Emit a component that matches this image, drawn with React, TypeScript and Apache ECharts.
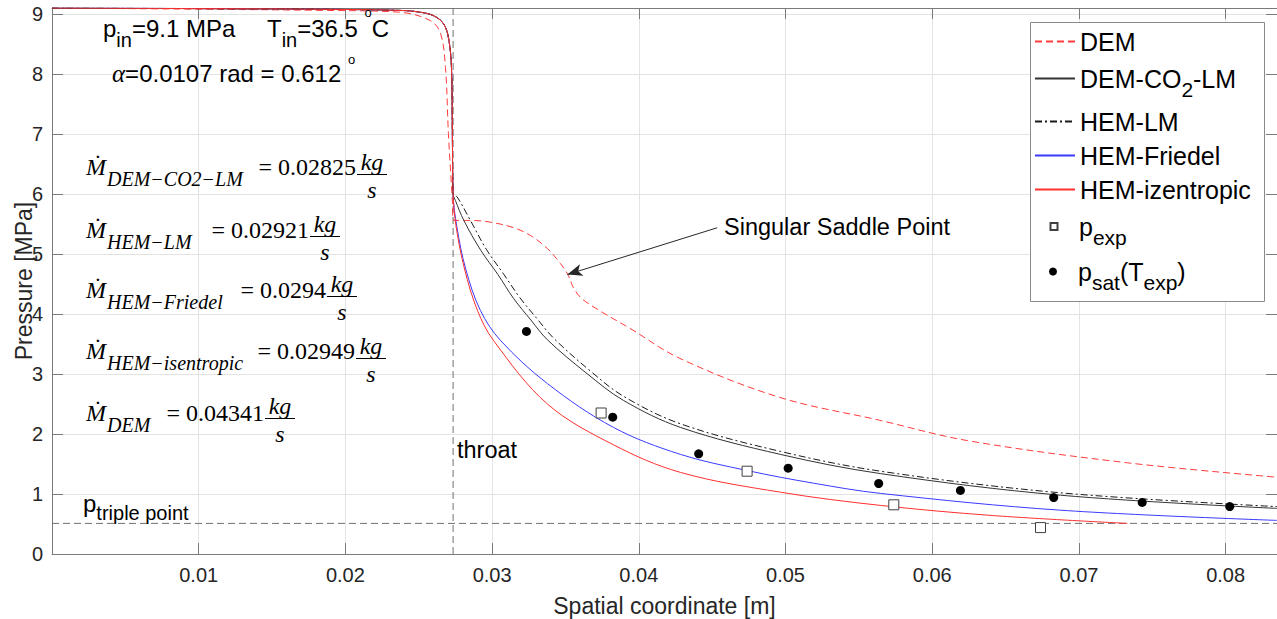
import React, { useEffect, useRef } from 'react';
import * as echarts from 'echarts';

const SANS = '"Liberation Sans", Arial, Helvetica, sans-serif';
const SERIF = '"Liberation Serif", "DejaVu Serif", "Times New Roman", serif';

// ---- axes ----
const X_MAX = 0.0835;
const X_INTERVAL = 0.01;
const Y_MAX = 9.1;
const Y_INTERVAL = 1;
const THROAT_X = 0.02734;
const P_TRIPLE = 0.51;

// ---- shared upstream (converging part) ----
const upstreamX = [0, 0.01, 0.018, 0.0237, 0.0251, 0.02602, 0.02668, 0.02702, 0.02723, 0.02729];
const upstreamP = [9.1, 9.09, 9.08, 9.06, 9.03, 8.97, 8.84, 8.61, 8.11, 7.01];

// ---- DEM (dashed red) ----
const demX = [0, 0.01, 0.0185, 0.0237, 0.02579, 0.02648, 0.02682, 0.02702, 0.02729, 0.02736, 0.0285, 0.0299, 0.03145, 0.03261, 0.03377, 0.03466, 0.0352, 0.03554, 0.0361, 0.0373, 0.0394, 0.0428, 0.0496, 0.0564, 0.0624, 0.0733, 0.0835];
const demP = [9.1, 9.08, 9.06, 9.03, 8.89, 8.68, 8.11, 7.01, 5.89, 5.56, 5.56, 5.53, 5.44, 5.31, 5.09, 4.84, 4.64, 4.44, 4.26, 4.06, 3.76, 3.26, 2.61, 2.23, 1.89, 1.52, 1.28];

// ---- downstream branches ----
const co2lmX = [0.02734, 0.0275, 0.02807, 0.02923, 0.03039, 0.03146, 0.03264, 0.03377, 0.0364, 0.03895, 0.04284, 0.04965, 0.05647, 0.06874, 0.0835];
const co2lmP = [6.0, 5.89, 5.56, 5.06, 4.66, 4.26, 3.9, 3.57, 3.02, 2.56, 2.11, 1.66, 1.34, 0.98, 0.76];

const hemLmX = [0.02734, 0.02762, 0.02852, 0.0296, 0.0308, 0.0319, 0.0331, 0.03418, 0.0366, 0.03895, 0.04284, 0.04965, 0.05647, 0.06874, 0.0835];
const hemLmP = [6.0, 5.95, 5.56, 5.08, 4.66, 4.27, 3.91, 3.6, 3.07, 2.63, 2.17, 1.71, 1.38, 1.02, 0.79];

const friedelX = [0.02734, 0.0276, 0.0282, 0.0292, 0.03057, 0.03377, 0.03827, 0.04284, 0.04741, 0.05191, 0.05647, 0.06874, 0.0835];
const friedelP = [6.0, 5.45, 4.75, 4.06, 3.56, 2.84, 2.11, 1.66, 1.39, 1.18, 1.01, 0.73, 0.56];

const isenX = [0.02734, 0.02755, 0.02812, 0.029, 0.03009, 0.03377, 0.03827, 0.04284, 0.04965, 0.05647, 0.06418, 0.0733];
const isenP = [6.0, 5.45, 4.75, 4.06, 3.56, 2.5, 1.82, 1.36, 1.03, 0.81, 0.64, 0.51];

// ---- experiments ----
const pExpX = [0.03743, 0.04738, 0.05738, 0.06738];
const pExpP = [2.35, 1.38, 0.82, 0.44];
const pSatX = [0.03234, 0.03822, 0.04408, 0.05018, 0.05635, 0.06192, 0.06828, 0.07431, 0.08028];
const pSatP = [3.71, 2.28, 1.67, 1.43, 1.175, 1.06, 0.94, 0.86, 0.79];

// ---- mass flow annotations ----
const massFlowSubs = ['DEM\u2212CO2\u2212LM', 'HEM\u2212LM', 'HEM\u2212Friedel', 'HEM\u2212isentropic', 'DEM'];
const massFlowValues = ['0.02825', '0.02921', '0.0294', '0.02949', '0.04341'];

// ---- saddle arrow (data coords) ----
const arrowFrom = [0.04534, 5.437];
const arrowTo = [0.03513, 4.658];

const zip = (xs: number[], ys: number[]) => xs.map((x, i) => [x, ys[i]]);

const legendItems = [
  { name: 'DEM', fmt: '{m|DEM}', cy: 42, left: 1034, w: 40, h: 14, pad: 0, line: true },
  { name: 'DEM-CO2-LM', fmt: '{m|DEM-CO}{s|2}{m|-LM}', cy: 79, left: 1034, w: 40, h: 14, pad: 0, line: true },
  { name: 'HEM-LM', fmt: '{m|HEM-LM}', cy: 122, left: 1034, w: 40, h: 14, pad: 0, line: true },
  { name: 'HEM-Friedel', fmt: '{m|HEM-Friedel}', cy: 156, left: 1034, w: 40, h: 14, pad: 0, line: true },
  { name: 'HEM-izentropic', fmt: '{m|HEM-izentropic}', cy: 190, left: 1034, w: 40, h: 14, pad: 0, line: true },
  { name: 'p_exp', fmt: '{m|p}{s|exp}', cy: 227, left: 1049.5, w: 7, h: 7, pad: 16.5, line: false },
  { name: 'p_sat(T_exp)', fmt: '{m|p}{s|sat}{m|(T}{s|exp}{m|)}', cy: 272, left: 1049, w: 8, h: 8, pad: 16, line: false },
];

const formulaLayout = [
  { yc: 167, barY: 174.5, barX0: 357 },
  { yc: 230, barY: 236.5, barX0: 310 },
  { yc: 290, barY: 296.5, barX0: 327 },
  { yc: 351, barY: 358.5, barX0: 356 },
  { yc: 412.5, barY: 418.5, barX0: 265 },
];

export default function App() {
  const ref = useRef<HTMLDivElement>(null);

  useEffect(() => {
    if (!ref.current) return;
    const chart = echarts.init(ref.current, undefined, { renderer: 'svg' });

    const axisGray = '#7a7a7a';
    const labelColor = '#262626';

    const annRich = {
      m: { fontSize: 24, fontFamily: SANS, fill: '#000', lineHeight: 44, verticalAlign: 'middle' },
      s: { fontSize: 20, fontFamily: SANS, fill: '#000', lineHeight: 20, verticalAlign: 'bottom' },
      u: { fontSize: 13, fontFamily: SANS, fill: '#000', lineHeight: 13, verticalAlign: 'top' },
      a: { fontSize: 25, fontFamily: SERIF, fontStyle: 'italic', fill: '#000', lineHeight: 44, verticalAlign: 'middle' },
    };
    const annRich40 = {
      m: { ...annRich.m, lineHeight: 40 },
      s: annRich.s,
      u: annRich.u,
      a: { ...annRich.a, lineHeight: 40 },
    };

    const graphics: any[] = [
      {
        type: 'rect', z: 3, silent: true,
        shape: { x: 1030.5, y: 22.5, width: 234, height: 279 },
        style: { fill: '#fff', stroke: '#8a8a8a', lineWidth: 1 },
      },
      {
        type: 'text', x: 103, y: 28, z: 5, silent: true,
        style: { text: '{m|p}{s|in}{m|=9.1 MPa}', rich: annRich, verticalAlign: 'middle', align: 'left' },
      },
      {
        type: 'text', x: 267, y: 28, z: 5, silent: true,
        style: { text: '{m|T}{s|in}{m|=36.5 }{u|o}{m|C}', rich: annRich, verticalAlign: 'middle', align: 'left' },
      },
      {
        type: 'text', x: 112, y: 73, z: 5, silent: true,
        style: { text: '{a|\u03B1}{m|=0.0107 rad = 0.612 }{u|o}', rich: annRich40, verticalAlign: 'middle', align: 'left' },
      },
      {
        type: 'text', x: 83, y: 503, z: 5, silent: true,
        style: { text: '{m|p}{s|triple point}', rich: annRich40, verticalAlign: 'middle', align: 'left' },
      },
      {
        type: 'text', x: 457, y: 449.5, z: 5, silent: true,
        style: { text: 'throat', fontSize: 23.5, fontFamily: SANS, fill: '#000', verticalAlign: 'middle', align: 'left' },
      },
      {
        type: 'text', x: 724, y: 227, z: 5, silent: true,
        style: { text: 'Singular Saddle Point', fontSize: 23.5, fontFamily: SANS, fill: '#000', verticalAlign: 'middle', align: 'left' },
      },
    ];

    formulaLayout.forEach((f, i) => {
      const barW = 30;
      graphics.push(
        {
          type: 'text', x: 86, y: f.yc, z: 5, silent: true,
          style: { text: '\u1E40', fontSize: 24, fontFamily: SERIF, fontStyle: 'italic', fill: '#000', verticalAlign: 'middle', align: 'left' },
        },
        {
          type: 'text', x: 107, y: f.yc + 12, z: 5, silent: true,
          style: { text: massFlowSubs[i], fontSize: 20, fontFamily: SERIF, fontStyle: 'italic', fill: '#000', verticalAlign: 'middle', align: 'left' },
        },
        {
          type: 'text', x: f.barX0 - 1, y: f.yc, z: 5, silent: true,
          style: { text: '= ' + massFlowValues[i], fontSize: 24, fontFamily: SERIF, fill: '#000', verticalAlign: 'middle', align: 'right' },
        },
        {
          type: 'text', x: f.barX0 + barW / 2, y: f.barY - 13, z: 5, silent: true,
          style: { text: 'kg', fontSize: 24, fontFamily: SERIF, fontStyle: 'italic', fill: '#000', verticalAlign: 'middle', align: 'center' },
        },
        {
          type: 'line', z: 5, silent: true,
          shape: { x1: f.barX0, y1: f.barY, x2: f.barX0 + barW, y2: f.barY },
          style: { stroke: '#000', lineWidth: 1 },
        },
        {
          type: 'text', x: f.barX0 + barW / 2, y: f.barY + 15, z: 5, silent: true,
          style: { text: 's', fontSize: 24, fontFamily: SERIF, fontStyle: 'italic', fill: '#000', verticalAlign: 'middle', align: 'center' },
        },
      );
    });

    const legendRich = {
      m: { fontSize: 25, fontFamily: SANS, color: '#000', lineHeight: 42, verticalAlign: 'middle' },
      s: { fontSize: 21, fontFamily: SANS, color: '#000', lineHeight: 20, verticalAlign: 'bottom' },
    };

    const legends = legendItems.map((it) => {
      const lg: any = {
        data: [it.name],
        left: it.left,
        top: it.cy - 13,
        padding: 0,
        itemWidth: it.w,
        itemHeight: it.h,
        itemGap: 0,
        selectedMode: false,
        z: 6,
        formatter: () => it.fmt,
        textStyle: {
          fontSize: 25, fontFamily: SANS, color: '#000', rich: legendRich,
          padding: [0, 0, 0, it.pad],
        },
      };
      if (it.line) lg.itemStyle = { opacity: 0 };
      return lg;
    });

    const lineBase = {
      type: 'line',
      symbol: 'none',
      showSymbol: false,
      silent: true,
      smooth: 0.35,
      emphasis: { disabled: true },
      z: 2,
    };

    const refLine = (name: string, data: number[][]) => ({
      type: 'line', name, data, symbol: 'none', silent: true,
      lineStyle: { color: '#707070', width: 1, type: [7, 4] },
      emphasis: { disabled: true }, z: 1,
    });

    const option: any = {
      animation: false,
      backgroundColor: '#fff',
      textStyle: { fontFamily: SANS },
      grid: { left: 52, right: 0, top: 8, bottom: 65, containLabel: false, outerBoundsMode: 'none' },
      legend: legends,
      xAxis: [
        {
          type: 'value', min: 0, max: X_MAX, interval: X_INTERVAL, position: 'bottom',
          axisLine: { show: true, onZero: false, lineStyle: { color: axisGray, width: 1 } },
          axisTick: { show: true, inside: true, length: 11, lineStyle: { color: axisGray } },
          axisLabel: {
            fontSize: 20, color: labelColor, margin: 11, fontFamily: SANS,
            formatter: (v: number) => {
              const k = v / X_INTERVAL;
              if (v <= 0 || v >= X_MAX - 1e-9 || Math.abs(k - Math.round(k)) > 1e-6) return '';
              return String(Number(v.toFixed(2)));
            },
          },
          splitLine: { show: true, lineStyle: { color: '#e3e3e3', width: 1 } },
          name: 'Spatial coordinate [m]', nameLocation: 'middle', nameGap: 40, nameMoveOverlap: false,
          nameTextStyle: { fontSize: 23, color: labelColor, fontFamily: SANS },
        },
        {
          type: 'value', min: 0, max: X_MAX, interval: X_INTERVAL, position: 'top',
          axisLine: { show: true, onZero: false, lineStyle: { color: axisGray, width: 1 } },
          axisTick: { show: true, inside: true, length: 11, lineStyle: { color: axisGray } },
          axisLabel: { show: false }, splitLine: { show: false },
        },
      ],
      yAxis: [
        {
          type: 'value', min: 0, max: Y_MAX, interval: Y_INTERVAL, position: 'left',
          axisLine: { show: true, onZero: false, lineStyle: { color: axisGray, width: 1 } },
          axisTick: { show: true, inside: true, length: 11, lineStyle: { color: axisGray } },
          axisLabel: {
            fontSize: 20, color: labelColor, margin: 9, fontFamily: SANS,
            formatter: (v: number) => (Math.abs(v - Math.round(v)) < 1e-6 ? String(Math.round(v)) : ''),
          },
          splitLine: { show: true, lineStyle: { color: '#e3e3e3', width: 1 } },
          name: 'Pressure [MPa]', nameLocation: 'middle', nameGap: 17, nameRotate: 90, nameMoveOverlap: false,
          nameTextStyle: { fontSize: 23, color: labelColor, fontFamily: SANS },
        },
        {
          type: 'value', min: 0, max: Y_MAX, interval: Y_INTERVAL, position: 'right',
          axisLine: { show: true, onZero: false, lineStyle: { color: axisGray, width: 1 } },
          axisTick: { show: true, inside: true, length: 11, lineStyle: { color: axisGray } },
          axisLabel: { show: false }, splitLine: { show: false },
        },
      ],
      graphic: { elements: graphics },
      series: [
        refLine('throat', [[THROAT_X, 0], [THROAT_X, Y_MAX]]),
        refLine('triple point', [[0, P_TRIPLE], [X_MAX, P_TRIPLE]]),
        {
          ...lineBase, name: 'DEM', data: zip(demX, demP),
          lineStyle: { color: '#ff3b3b', width: 1, type: [7, 4] }, itemStyle: { color: '#ff3b3b' },
        },
        {
          ...lineBase, name: 'HEM-Friedel', data: zip(upstreamX.concat(friedelX), upstreamP.concat(friedelP)),
          lineStyle: { color: '#3a3aff', width: 1, type: 'solid' }, itemStyle: { color: '#3a3aff' },
        },
        {
          ...lineBase, name: 'HEM-LM', data: zip(upstreamX.concat(hemLmX), upstreamP.concat(hemLmP)),
          lineStyle: { color: '#1a1a1a', width: 1, type: [7, 3, 2, 3] }, itemStyle: { color: '#1a1a1a' },
        },
        {
          ...lineBase, name: 'DEM-CO2-LM', data: zip(upstreamX.concat(co2lmX), upstreamP.concat(co2lmP)),
          lineStyle: { color: '#333333', width: 1, type: 'solid' }, itemStyle: { color: '#333333' },
        },
        {
          ...lineBase, name: 'HEM-izentropic', data: zip(upstreamX.concat(isenX), upstreamP.concat(isenP)),
          lineStyle: { color: '#ff3030', width: 1, type: 'solid' }, itemStyle: { color: '#ff3030' },
        },
        {
          type: 'line', name: 'saddle arrow', data: [arrowTo], symbol: 'none', silent: true, z: 4,
          lineStyle: { opacity: 0 },
          markLine: {
            silent: true, animation: false,
            symbol: ['none', 'arrow'], symbolSize: [9, 15],
            lineStyle: { color: '#262626', width: 1, type: 'solid' },
            label: { show: false },
            emphasis: { disabled: true },
            data: [[{ coord: arrowFrom }, { coord: arrowTo }]],
          },
        },
        {
          type: 'scatter', name: 'p_exp', data: zip(pExpX, pExpP), symbol: 'rect', symbolSize: 10,
          silent: true, z: 4, emphasis: { disabled: true },
          itemStyle: { color: '#ffffff', borderColor: '#404040', borderWidth: 1, opacity: 1 },
        },
        {
          type: 'scatter', name: 'p_sat(T_exp)', data: zip(pSatX, pSatP), symbol: 'circle', symbolSize: 9,
          silent: true, z: 4, emphasis: { disabled: true },
          itemStyle: { color: '#000000', opacity: 1 },
        },
      ],
    };

    chart.setOption(option);
    return () => chart.dispose();
  }, []);

  return (
    <div
      ref={ref}
      style={{ position: 'fixed', left: 0, top: 0, width: 1277, height: 619, background: '#fff' }}
    />
  );
}
